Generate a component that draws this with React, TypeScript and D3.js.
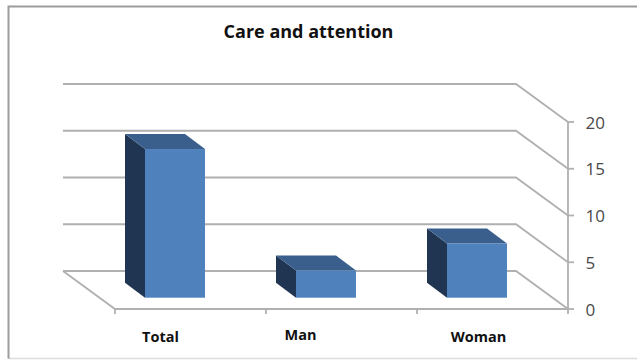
import React from "react";
import * as d3 from "d3";

const categories = ["Total", "Man", "Woman"];
const values = [15.9, 2.9, 5.8];
const valueTicks = [0, 5, 10, 15, 20];
const title = "Care and attention";

const WIDTH = 637;
const HEIGHT = 360;

// Oblique projection: the back wall sits up and to the left of the front edge.
const floorDepth = { dx: -52, dy: -38 };
const barDepth = { dx: -20, dy: -15 };

const x = d3.scaleBand<string>().domain(categories).range([115, 568]);
const y = d3.scaleLinear().domain([0, 20]).range([309, 122]);

// Bars stand a little in from the front edge of the floor.
const barInset = { dx: -15.5, dy: -11.3 };
const barWidth = 60;
const labelShift = [-30, -41, -14];
const labelY = [342, 340, 342];

const poly = (pts: [number, number][]) => d3.line()(pts) + "Z";

const fontFamily = "'Open Sans', 'Noto Sans', sans-serif";
const gridColor = "#b0b0b0";

export default function App() {
  const x0 = x.range()[0];
  const x1 = x.range()[1];
  return (
    <svg
      width={WIDTH}
      height={HEIGHT}
      viewBox={`0 0 ${WIDTH} ${HEIGHT}`}
      style={{ position: "absolute", left: 0, top: 0, background: "#fff" }}
    >
      {/* Chart frame: open on the right, heavier at the top and left */}
      <line x1={8} x2={WIDTH} y1={358.5} y2={358.5} stroke="#dcdcdc" strokeWidth={1.5} />
      <path d={`M${WIDTH},6.5H8.5V358.5`} fill="none" stroke="#9c9c9c" strokeWidth={2} />

      <text x={308.5} y={37.5} textAnchor="middle" fontFamily={fontFamily} fontWeight={700} fontSize={18} fill="#111">
        {title}
      </text>

      {/* Back-wall gridlines, each turning down the side wall to the value axis */}
      {valueTicks.map((t) => (
        <path
          key={t}
          d={
            d3.line()([
              [x0 + floorDepth.dx, y(t) + floorDepth.dy],
              [x1 + floorDepth.dx, y(t) + floorDepth.dy],
              [x1, y(t)],
            ]) as string
          }
          fill="none"
          stroke={gridColor}
          strokeWidth={1.8}
        />
      ))}

      {/* Floor: left edge and front edge */}
      <path
        d={d3.line()([
          [x0 + floorDepth.dx, y(0) + floorDepth.dy],
          [x0, y(0)],
          [x1, y(0)],
        ]) as string}
        fill="none"
        stroke={gridColor}
        strokeWidth={1.8}
      />

      {/* Value axis */}
      <line x1={x1} x2={x1} y1={y(20)} y2={y(0)} stroke={gridColor} strokeWidth={1.8} />
      {valueTicks.map((t) => (
        <g key={t}>
          <line x1={x1} x2={x1 + 6} y1={y(t)} y2={y(t)} stroke={gridColor} strokeWidth={1.8} />
          <text x={585.5} y={y(t) + 6.5} fontFamily={fontFamily} fontSize={17} fill="#4a4a4a">
            {t}
          </text>
        </g>
      ))}

      {/* Category ticks */}
      {[...categories.map((c) => x(c) as number), x1].map((px) => (
        <line key={px} x1={px} x2={px} y1={y(0)} y2={y(0) + 5} stroke={gridColor} strokeWidth={1.8} />
      ))}

      {/* Bars: side and top faces offset by the bar depth, then the front face */}
      {categories.map((c, i) => {
        const left = (x(c) as number) + x.bandwidth() / 2 + barInset.dx - barWidth / 2;
        const right = left + barWidth;
        const base = y(0) + barInset.dy;
        const top = base - (y(0) - y(values[i]));
        const { dx, dy } = barDepth;
        return (
          <g key={c}>
            <path
              d={poly([
                [left, top],
                [left + dx, top + dy],
                [left + dx, base + dy],
                [left, base],
              ])}
              fill="#1f3552"
            />
            <path
              d={poly([
                [left, top],
                [left + dx, top + dy],
                [right + dx, top + dy],
                [right, top],
              ])}
              fill="#3a5f8c"
            />
            <rect x={left} y={top} width={barWidth} height={base - top} fill="#4f81bd" />
          </g>
        );
      })}

      {categories.map((c, i) => (
        <text
          key={c}
          x={(x(c) as number) + x.bandwidth() / 2 + labelShift[i]}
          y={labelY[i]}
          textAnchor="middle"
          fontFamily={fontFamily}
          fontWeight={700}
          fontSize={14.5}
          fill="#111"
        >
          {c}
        </text>
      ))}
    </svg>
  );
}
